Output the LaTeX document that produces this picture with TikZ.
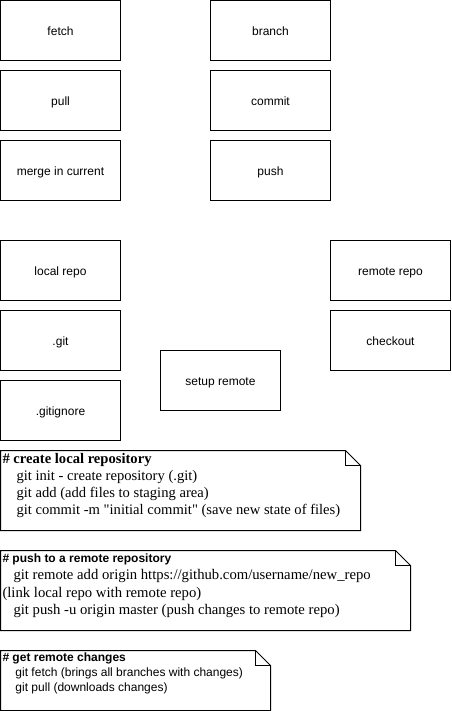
\documentclass[tikz,border=0pt]{standalone}
\usepackage{fontspec}
\setmainfont{Liberation Serif}
\setsansfont{Liberation Sans}
\newfontfamily\qfont{Liberation Serif}[Ligatures=TeXOff]
\newcommand{\dq}{{\qfont"}}
\begin{document}
\begin{tikzpicture}[x=1pt,y=-1pt,line width=1pt,
  box/.style={draw,minimum width=120pt,minimum height=60pt,inner sep=0pt,
    text height=10.8pt,text depth=0pt,
    font=\sffamily\fontsize{12}{14}\selectfont},
  notetxt/.style={anchor=north west,inner sep=0pt,align=left}]
\useasboundingbox (0,0) rectangle (451,711);
% boxes
\node[box] (fetch)  at (60.5,30.5)  {fetch};
\node[box] (pull)   at (60.5,100.5) {pull};
\node[box] (merge)  at (60.5,170.5) {merge in current};
\node[box] (branch) at (270.5,30.5)  {branch};
\node[box] (commit) at (270.5,100.5) {commit};
\node[box] (push)   at (270.5,170.5) {push};
\node[box] (local)  at (60.5,270.5) {local repo};
\node[box] (git)    at (60.5,340.5) {.git};
\node[box] (ignore) at (60.5,410.5) {.gitignore};
\node[box] (remote) at (390.5,270.5) {remote repo};
\node[box] (checkout) at (390.5,340.5) {checkout};
\node[box] (setup)  at (220.5,380.5) {setup remote};
% note shapes
\foreach \x/\y/\w/\h in {0.5/450.5/360/80, 0.5/550.5/410/80, 0.5/650.5/270/60}{
  \draw (\x,\y) -- (\x+\w-15,\y) -- (\x+\w,\y+15) -- (\x+\w,\y+\h) -- (\x,\y+\h) -- cycle;
  \draw (\x+\w-15,\y) -- (\x+\w-15,\y+15) -- (\x+\w,\y+15);
}
% note texts
\node[notetxt,font=\fontsize{14.6}{17}\selectfont] (n1) at (2,453)
 {\textbf{\# create local repository}\\
  \hspace*{14pt}git init - create repository (.git)\\
  \hspace*{14pt}git add (add files to staging area)\\
  \hspace*{14pt}git commit -m \dq initial commit\dq{} (save new state of files)};
\node[notetxt,font=\fontsize{14.7}{17.5}\selectfont] (n2) at (2,553)
 {{\sffamily\bfseries\fontsize{12}{14}\selectfont \# push to a remote repository}\\
  \hspace*{11pt}git remote add origin https://github.com/username/new\_repo\\
  (link local repo with remote repo)\\
  \hspace*{11pt}git push -u origin master (push changes to remote repo)};
\node[notetxt,font=\sffamily\fontsize{12}{15}\selectfont] (n3) at (2,652)
 {\textbf{\# get remote changes}\\
  \hspace*{13pt}git fetch (brings all branches with changes)\\
  \hspace*{13pt}git pull (downloads changes)};
\end{tikzpicture}
\end{document}
